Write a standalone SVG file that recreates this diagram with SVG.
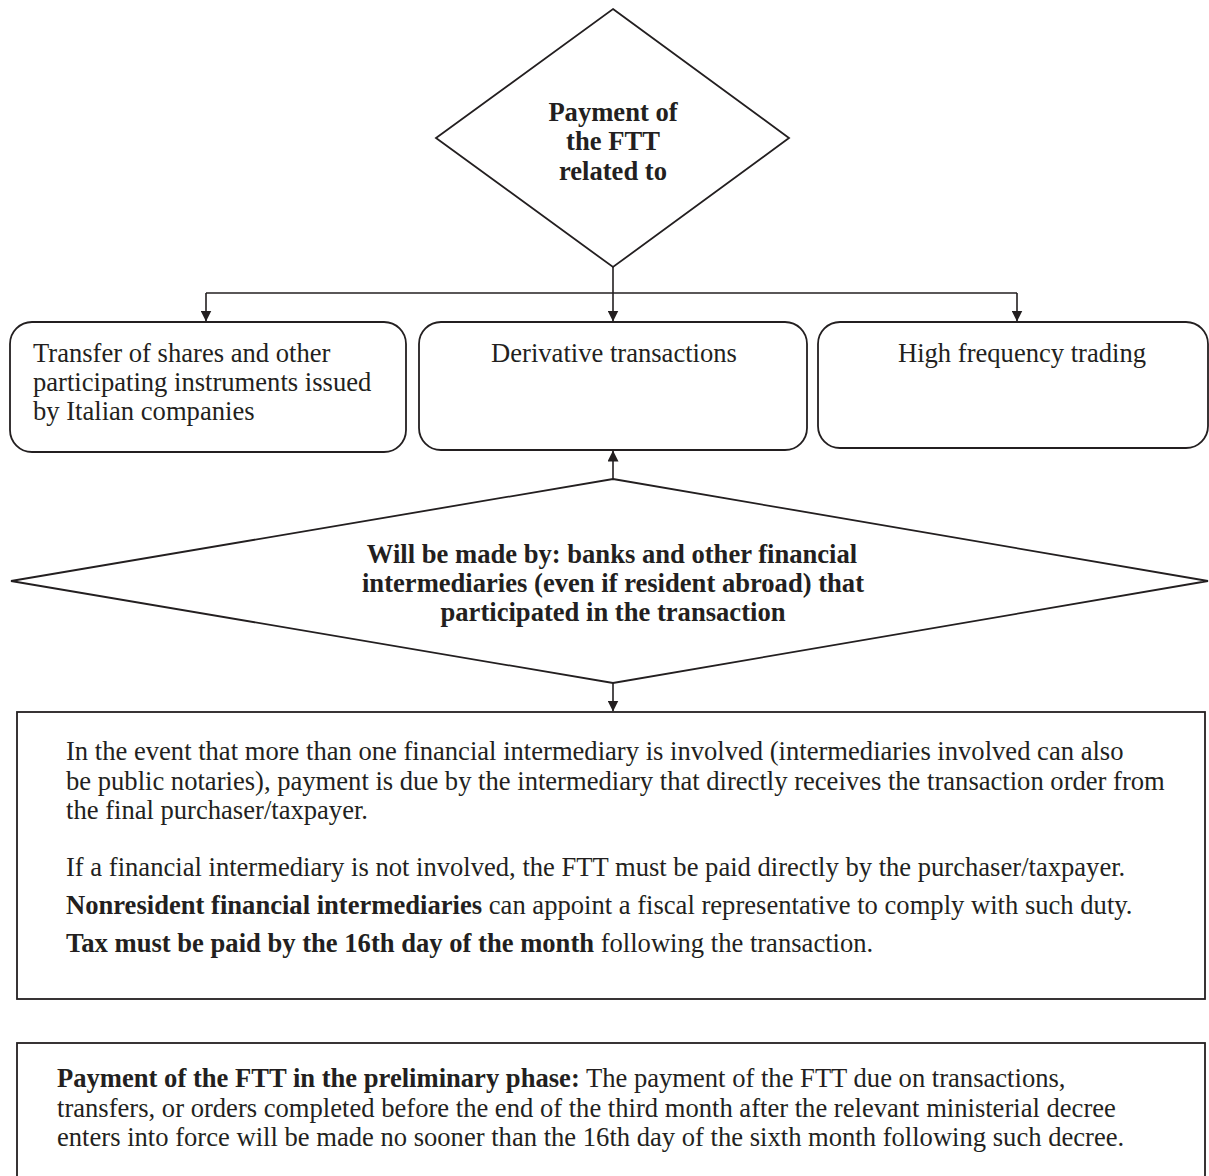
<svg xmlns="http://www.w3.org/2000/svg" width="1209" height="1176" viewBox="0 0 1209 1176">
<style>
  .shape { fill: #ffffff; stroke: #231f20; stroke-width: 1.8; }
  .conn { fill: none; stroke: #231f20; stroke-width: 1.6; }
  text { font-family: "Liberation Serif", "Times New Roman", serif; font-size: 26.6px; fill: #231f20; }
  .b { font-weight: bold; }
  .c { text-anchor: middle; }
</style>
<defs>
  <marker id="arrow" viewBox="0 0 11 11" refX="10.5" refY="5.5" markerWidth="11" markerHeight="11" markerUnits="userSpaceOnUse" orient="auto">
    <path d="M0,0 L11,5.5 L0,11 Z" fill="#231f20"/>
  </marker>
</defs>
<rect x="0" y="0" width="1209" height="1176" fill="#ffffff"/>

<g id="connectors">
  <line class="conn" x1="613" y1="267" x2="613" y2="293"/>
  <line class="conn" x1="206" y1="293" x2="1017" y2="293"/>
  <line class="conn" x1="206" y1="293" x2="206" y2="321" marker-end="url(#arrow)"/>
  <line class="conn" x1="613" y1="293" x2="613" y2="321" marker-end="url(#arrow)"/>
  <line class="conn" x1="1017" y1="293" x2="1017" y2="321" marker-end="url(#arrow)"/>
  <line class="conn" x1="613" y1="479" x2="613" y2="451" marker-end="url(#arrow)"/>
  <line class="conn" x1="613" y1="683" x2="613" y2="711" marker-end="url(#arrow)"/>
</g>

<g id="decision-payment">
  <polygon class="shape" points="613,9 789,138 613,267 436,138"/>
  <text class="b c" x="613" y="121">Payment of</text>
  <text class="b c" x="613" y="150">the FTT</text>
  <text class="b c" x="613" y="180">related to</text>
</g>

<g id="box-transfer">
  <rect class="shape" x="10" y="322" width="396" height="130" rx="22" ry="22"/>
  <text x="33" y="362">Transfer of shares and other</text>
  <text x="33" y="391">participating instruments issued</text>
  <text x="33" y="420">by Italian companies</text>
</g>

<g id="box-derivative">
  <rect class="shape" x="419" y="322" width="388" height="128" rx="22" ry="22"/>
  <text class="c" x="614" y="362">Derivative transactions</text>
</g>

<g id="box-hft">
  <rect class="shape" x="818" y="322" width="390" height="126" rx="22" ry="22"/>
  <text class="c" x="1022" y="362">High frequency trading</text>
</g>

<g id="decision-made-by">
  <polygon class="shape" points="613,479 1208,581 613,683 11,581"/>
  <text class="b c" x="612" y="563">Will be made by: banks and other financial</text>
  <text class="b c" x="613" y="592">intermediaries (even if resident abroad) that</text>
  <text class="b c" x="613" y="621">participated in the transaction</text>
</g>

<g id="box-payment-rules">
  <rect class="shape" x="17" y="712" width="1188" height="287"/>
  <text x="66" y="760">In the event that more than one financial intermediary is involved (intermediaries involved can also</text>
  <text x="66" y="790">be public notaries), payment is due by the intermediary that directly receives the transaction order from</text>
  <text x="66" y="819">the final purchaser/taxpayer.</text>
  <text x="66" y="876">If a financial intermediary is not involved, the FTT must be paid directly by the purchaser/taxpayer.</text>
  <text x="66" y="914"><tspan class="b">Nonresident financial intermediaries</tspan> can appoint a fiscal representative to comply with such duty.</text>
  <text x="66" y="952"><tspan class="b">Tax must be paid by the 16th day of the month</tspan> following the transaction.</text>
</g>

<g id="box-preliminary">
  <rect class="shape" x="17" y="1043" width="1188" height="150"/>
  <text x="57" y="1087"><tspan class="b">Payment of the FTT in the preliminary phase:</tspan> The payment of the FTT due on transactions,</text>
  <text x="57" y="1117">transfers, or orders completed before the end of the third month after the relevant ministerial decree</text>
  <text x="57" y="1146">enters into force will be made no sooner than the 16th day of the sixth month following such decree.</text>
</g>
</svg>
